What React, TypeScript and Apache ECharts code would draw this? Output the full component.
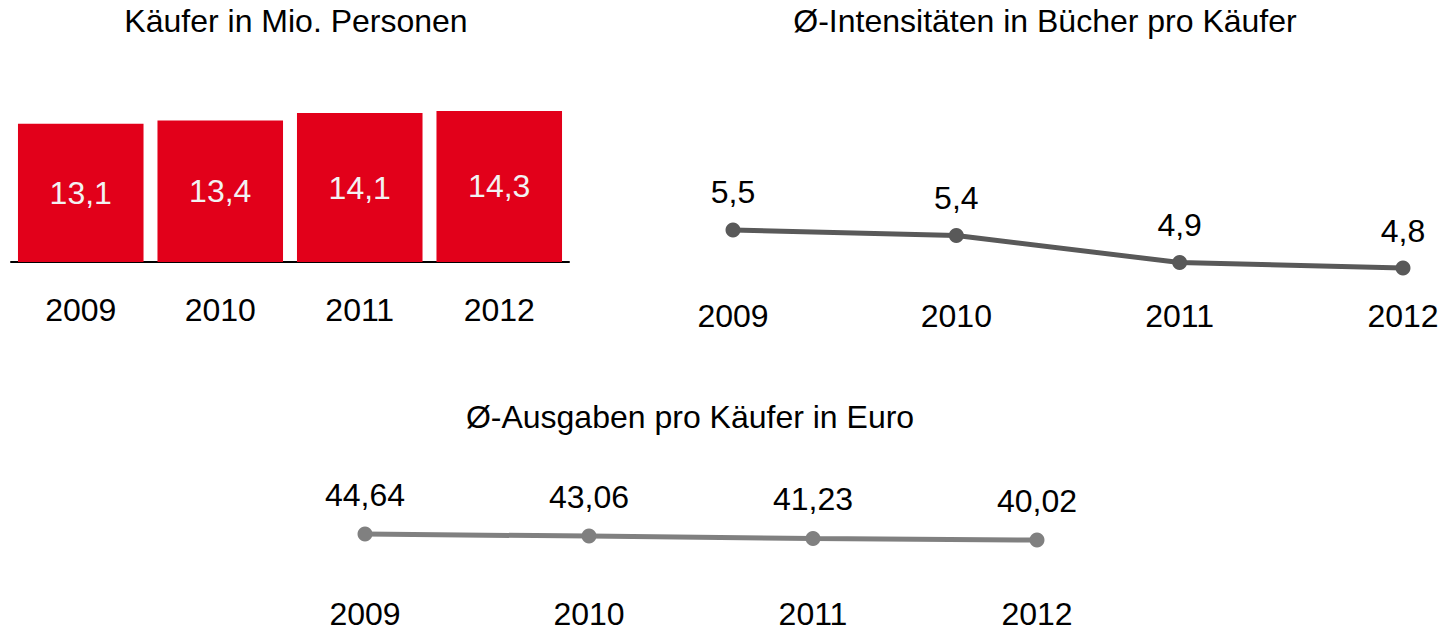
import React, { useEffect, useRef } from "react";
import * as echarts from "echarts";

const years = ["2009", "2010", "2011", "2012"];
const buyers = [13.1, 13.4, 14.1, 14.3];
const intensity = [5.5, 5.4, 4.9, 4.8];
const spending = [44.64, 43.06, 41.23, 40.02];

const titles = [
  "Käufer in Mio. Personen",
  "Ø-Intensitäten in Bücher pro Käufer",
  "Ø-Ausgaben pro Käufer in Euro",
];

const FONT = "'Liberation Sans', Arial, Helvetica, sans-serif";
const fmt = (v: number, d: number) => v.toFixed(d).replace(".", ",");

export default function App() {
  const ref = useRef<HTMLDivElement>(null);
  useEffect(() => {
    if (!ref.current) return;
    const chart = echarts.init(ref.current, null, { renderer: "svg" });
    const titleStyle = { fontFamily: FONT, fontSize: 32, fontWeight: "normal" as const, color: "#000" };
    const axisLabel = (margin: number, lineHeight?: number) => ({
      fontFamily: FONT,
      fontSize: 32,
      color: "#000",
      margin,
      ...(lineHeight ? { lineHeight } : {}),
    });
    chart.setOption({
      animation: false,
      backgroundColor: "#fff",
      title: [
        { text: titles[0], left: 296, top: 5, textAlign: "center", padding: 0, textStyle: titleStyle },
        { text: titles[1], left: 1045, top: 5, textAlign: "center", padding: 0, textStyle: titleStyle },
        { text: titles[2], left: 690, top: 401, textAlign: "center", padding: 0, textStyle: titleStyle },
      ],
      grid: [
        { left: 11, width: 558, top: 103.6, height: 158.4 },
        { left: 733, right: 44, top: 219.1, height: 65.2 },
        { left: 365, right: 410, top: 527.1, height: 64.9 },
      ],
      xAxis: [
        {
          gridIndex: 0,
          type: "category",
          data: years,
          axisLine: { lineStyle: { color: "#000", width: 2 } },
          axisTick: { show: false },
          axisLabel: axisLabel(32),
        },
        {
          gridIndex: 1,
          type: "category",
          data: years,
          boundaryGap: false,
          axisLine: { show: false },
          axisTick: { show: false },
          axisLabel: axisLabel(16),
        },
        {
          gridIndex: 2,
          type: "category",
          data: years,
          boundaryGap: false,
          axisLine: { show: false },
          axisTick: { show: false },
          axisLabel: axisLabel(9, 26),
        },
      ],
      yAxis: [
        { gridIndex: 0, type: "value", min: 0, max: 15, show: false },
        { gridIndex: 1, type: "value", min: 4.5, max: 5.7, show: false },
        { gridIndex: 2, type: "value", min: 0, max: 50, show: false },
      ],
      series: [
        {
          type: "bar",
          xAxisIndex: 0,
          yAxisIndex: 0,
          data: buyers,
          barCategoryGap: "10%",
          itemStyle: { color: "#E2001A" },
          label: {
            show: true,
            position: "inside",
            fontFamily: FONT,
            fontSize: 32,
            color: "#F2F2F2",
            formatter: (p: any) => fmt(p.value, 1),
          },
        },
        {
          type: "line",
          xAxisIndex: 1,
          yAxisIndex: 1,
          data: intensity,
          symbol: "circle",
          symbolSize: 15,
          lineStyle: { color: "#595959", width: 5 },
          itemStyle: { color: "#595959" },
          label: {
            show: true,
            position: "top",
            distance: 14,
            fontFamily: FONT,
            fontSize: 32,
            color: "#000",
            formatter: (p: any) => fmt(p.value, 1),
          },
        },
        {
          type: "line",
          xAxisIndex: 2,
          yAxisIndex: 2,
          data: spending,
          symbol: "circle",
          symbolSize: 15,
          lineStyle: { color: "#808080", width: 5 },
          itemStyle: { color: "#808080" },
          label: {
            show: true,
            position: "top",
            distance: 16,
            fontFamily: FONT,
            fontSize: 32,
            color: "#000",
            formatter: (p: any) => fmt(p.value, 2),
          },
        },
      ],
    });
    return () => chart.dispose();
  }, []);
  return (
    <div
      ref={ref}
      style={{ position: "fixed", left: 0, top: 0, width: 1447, height: 633 }}
    />
  );
}
